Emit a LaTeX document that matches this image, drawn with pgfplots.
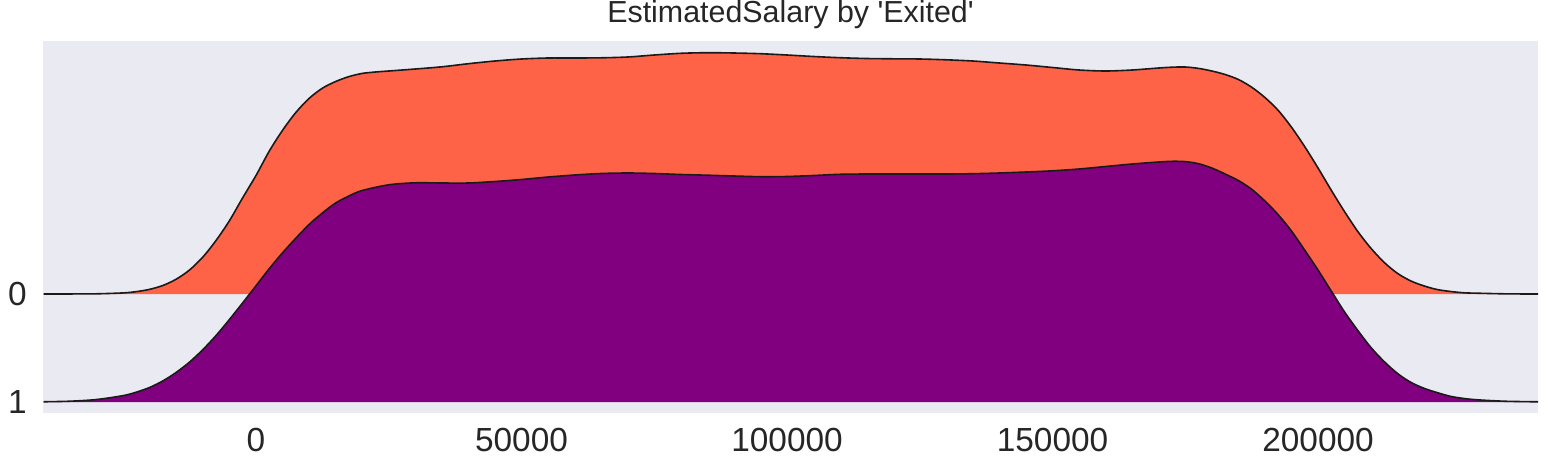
\documentclass[border=0pt]{standalone}
\usepackage{pgfplots}
\pgfplotsset{compat=1.18}
\usepackage{pgfplotstable}
\usepackage{fontspec}
\setmainfont{Liberation Sans}
\definecolor{bg}{HTML}{EAEAF2}
\definecolor{tomatoc}{HTML}{FF6347}
\definecolor{purp}{HTML}{800080}
\definecolor{txt}{HTML}{262626}
\definecolor{edge}{HTML}{1A1A1A}
% ridge heights in plot units; ridge "0" baseline at 108, ridge "1" baseline at 0
\pgfplotstableread{
x y
-40000 108
-35000 108.05
-30000 108.2
-25000 109.1
-22500 110.4
-20000 112.7
-17500 116.6
-15000 122.9
-12500 132.1
-10000 145
-7500 161.7
-5000 181.3
-2500 204.3
0 226.5
2500 250.9
5000 271.7
7500 289.5
10000 303.6
12500 313.8
15000 320.5
17500 325.4
20000 328.6
22500 330
25000 331
30000 333
35000 335.2
40000 338.3
45000 341
50000 343
55000 344
60000 344
65000 344.2
70000 345
75000 347
80000 348.7
85000 349.3
90000 349
95000 348.3
100000 347
105000 345.5
110000 344.3
115000 343.5
120000 343.2
125000 343
130000 342.2
135000 341
140000 339
145000 337
150000 334.5
155000 332
160000 331
165000 332
170000 334
172500 334.8
175000 335
177500 333.6
180000 331
182500 327.5
185000 322.5
187500 314.8
190000 304.5
192500 291.6
195000 274.8
197500 255.3
200000 234
202500 211.7
205000 190.3
207500 170.4
210000 153.5
212500 139.4
215000 128.5
217500 121
220000 116
222500 112.4
225000 110.5
227500 109.2
230000 108.8
235000 108.2
240000 108
}\exitzero
\pgfplotstableread{
x y
-40000 0.25
-35000 0.8
-30000 2.5
-25000 6.4
-22500 9.9
-20000 14.6
-17500 21.2
-15000 29.7
-12500 40
-10000 52.4
-7500 66.6
-5000 82.5
-2500 99.2
0 116.2
2500 133.3
5000 149.2
7500 163.8
10000 177.5
12500 189
15000 199
17500 206
20000 211.5
25000 217.2
30000 219.2
35000 219
40000 219
45000 220.5
50000 222.5
55000 225
60000 227
65000 228.5
70000 229
75000 228.5
80000 227.5
85000 226.8
90000 226
95000 225.3
100000 225.5
105000 226.5
110000 227.7
115000 228
120000 228
125000 228
130000 228
135000 228.3
140000 229
145000 230
150000 231.2
155000 233
160000 235.5
165000 238
170000 240
172500 240.7
175000 240.4
177500 238.3
180000 234
182500 228
185000 221.5
187500 212.8
190000 201
192500 187.3
195000 171
197500 151.8
200000 132
202500 110.9
205000 90
207500 71.5
210000 54.3
212500 40.2
215000 28.4
217500 19.6
220000 13.6
222500 9.3
225000 5.6
227500 3.5
230000 2.2
235000 0.8
240000 0.3
}\exitone
\begin{document}
\begin{tikzpicture}
\begin{axis}[
  scale only axis, width=747.5pt, height=186pt,
  xmin=-40112, xmax=241426, ymin=-11, ymax=361,
  axis background/.style={fill=bg},
  axis line style={draw=none},
  major tick length=0pt,
  xtick={0,50000,100000,150000,200000},
  xticklabels={0,50000,100000,150000,200000},
  ytick={0,108}, yticklabels={1,0},
  tick label style={font=\fontsize{16.7}{16.7}\selectfont, text=txt, inner sep=0pt},
  xticklabel style={anchor=north, yshift=-7.5pt},
  yticklabel style={anchor=east, xshift=-8pt},
  title={EstimatedSalary by \textquotesingle Exited\textquotesingle},
  title style={font=\fontsize{15.2}{15.2}\selectfont, text=txt, at={(0.5,1)}, anchor=base, yshift=3.5pt, inner sep=0pt},
  clip=true,
]
\addplot[fill=tomatoc, draw=none, smooth] table[x=x,y=y]{\exitzero} -- (axis cs:241426,108) -- (axis cs:-40112,108) -- cycle;
\addplot[draw=edge, line width=0.8pt, smooth] table[x=x,y=y]{\exitzero} -- (axis cs:241426,108);
\addplot[fill=purp, draw=none, smooth] table[x=x,y=y]{\exitone} -- (axis cs:241426,0.25) -- (axis cs:241426,0) -- (axis cs:-40112,0) -- cycle;
\addplot[draw=edge, line width=0.8pt, smooth] table[x=x,y=y]{\exitone} -- (axis cs:241426,0.25);
\end{axis}
\pgfresetboundingbox
\path ([xshift=-21.5pt,yshift=-27.5pt]current axis.south west) rectangle ([xshift=5pt,yshift=20.5pt]current axis.north east);
\end{tikzpicture}
\end{document}
